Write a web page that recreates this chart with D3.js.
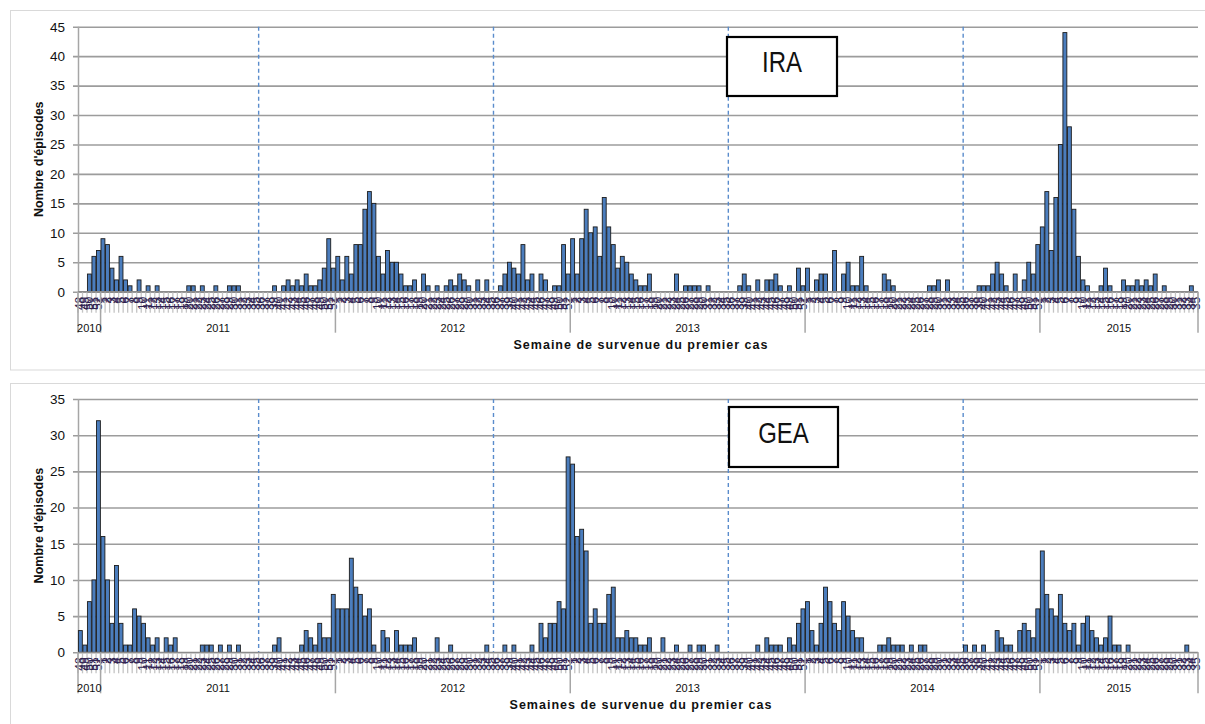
<!DOCTYPE html>
<html lang="fr">
<head>
<meta charset="UTF-8">
<title>IRA / GEA</title>
<script src="https://d3js.org/d3.v7.min.js"></script>
<style>
  body { margin: 0; background: #fff; }
  text { font-family: "Liberation Sans", Arial, sans-serif; }
</style>
</head>
<body>
<script>
// categories: weeks grouped by year
var years = ["2010", "2011", "2012", "2013", "2014", "2015"];
var firstWeek = [48, 1, 1, 1, 1, 1];
var lastWeek = [52, 52, 52, 52, 52, 35];
var seasonYears = ["2011", "2012", "2013", "2014"];
var seasonWeek = 36;

var iraTicks = [0, 5, 10, 15, 20, 25, 30, 35, 40, 45];
var geaTicks = [0, 5, 10, 15, 20, 25, 30, 35];

// IRA episodes per week
var ira = [
  0,0,3,6,7,9,8,4,2,6,  2,1,0,2,0,1,0,1,0,0,
  0,0,0,0,1,1,0,1,0,0,  1,0,0,1,1,1,0,0,0,0,
  0,0,0,1,0,1,2,1,2,1,  3,1,1,2,4,9,4,6,2,6,
  3,8,8,14,17,15,6,3,7,5,  5,3,1,1,2,0,3,1,0,1,
  0,1,2,1,3,2,1,0,2,0,  2,0,0,1,3,5,4,3,8,2,
  3,0,3,2,0,1,1,8,3,9,  3,9,14,10,11,6,16,11,8,4,
  6,5,3,2,1,1,3,0,0,0,  0,0,3,0,1,1,1,1,0,1,
  0,0,0,0,0,0,1,3,1,0,  2,0,2,2,3,1,0,1,0,4,
  1,4,0,2,3,3,0,7,0,3,  5,1,1,6,1,0,0,0,3,2,
  1,0,0,0,0,0,0,0,1,1,  2,0,2,0,0,0,0,0,0,1,
  1,1,3,5,3,1,0,3,0,2,  5,3,8,11,17,7,16,25,44,28,
  14,6,2,1,0,0,1,4,1,0,  0,2,1,1,2,1,2,1,3,0,
  1,0,0,0,0,0,1,0
];

// GEA episodes per week
var gea = [
  3,1,7,10,32,16,10,4,12,4,  1,1,6,5,4,2,1,2,0,2,
  1,2,0,0,0,0,0,1,1,1,  0,1,0,1,0,1,0,0,0,0,
  0,0,0,1,2,0,0,0,0,1,  3,2,1,4,2,2,8,6,6,6,
  13,9,8,5,6,1,0,3,2,0,  3,1,1,1,2,0,0,0,0,2,
  0,0,1,0,0,0,0,0,0,0,  1,0,0,0,1,0,1,0,0,0,
  1,0,4,2,4,4,7,6,27,26,  16,17,14,4,6,4,4,8,9,2,
  2,3,2,2,1,1,2,0,0,2,  0,0,1,0,0,1,0,1,1,0,
  0,1,0,0,0,0,0,0,0,0,  1,0,2,1,1,1,0,2,1,4,
  6,7,3,1,4,9,7,4,3,7,  5,3,2,2,0,0,0,1,1,2,
  1,1,1,0,1,0,1,1,0,0,  0,0,0,0,0,0,1,0,1,0,
  1,0,0,3,2,1,1,0,3,4,  3,2,6,14,8,6,5,8,4,3,
  4,1,4,5,3,2,1,2,5,1,  1,0,1,0,0,0,0,0,0,0,
  0,0,0,0,0,1,0,0
];

var weeks = [];
years.forEach(function(yr, k) {
    for (var w = firstWeek[k]; w <= lastWeek[k]; w++) weeks.push({year: yr, week: w});
});

var W = 1205, H = 724;
var left = 78, right = 1198;

var svg = d3.select("body").append("svg")
    .attr("width", W)
    .attr("height", H);

// panel frames
svg.append("rect").attr("x", 10.5).attr("y", 10.5).attr("width", 1210).attr("height", 359.5)
    .attr("fill", "#fff").attr("stroke", "#d9d9d9");
svg.append("rect").attr("x", 10.5).attr("y", 383.5).attr("width", 1210).attr("height", 400)
    .attr("fill", "#fff").attr("stroke", "#d9d9d9");

var x = d3.scaleBand().domain(d3.range(weeks.length)).range([left, right]).padding(0);
var bw = x.bandwidth();

function edge(i) { return i < weeks.length ? x(i) : right; }

var panels = [
    {values: ira, ticks: iraTicks, yMax: 45, top: 26.7, bottom: 291.7, name: "IRA",
     box: [727, 37, 110, 59], nameY: 72,
     xTitle: "Semaine de survenue du premier cas"},
    {values: gea, ticks: geaTicks, yMax: 35, top: 399, bottom: 652.3, name: "GEA",
     box: [729, 407, 109, 60], nameY: 443,
     xTitle: "Semaines de survenue du premier cas"}
];

panels.forEach(function(p) {
    var y = d3.scaleLinear().domain([0, p.yMax]).range([p.bottom, p.top]);
    var g = svg.append("g");

    // gridlines + tick labels
    var ax = g.append("g")
        .attr("transform", "translate(" + (left - 5) + ",0)")
        .call(d3.axisLeft(y).tickValues(p.ticks).tickSize(-(right - left + 5)).tickPadding(8));
    ax.select(".domain").remove();
    ax.selectAll("line").attr("stroke", "#9c9c9c").attr("stroke-width", 1.6);
    ax.selectAll("text")
        .attr("fill", "#111")
        .style("font-size", "13.5px")
        .style("font-family", "'Liberation Sans', Arial, sans-serif");

    // vertical axis line
    g.append("line")
        .attr("x1", left + 0.5).attr("x2", left + 0.5)
        .attr("y1", p.top).attr("y2", p.bottom)
        .attr("stroke", "#a6a6a6").attr("stroke-width", 1.5);

    // season separators
    seasonYears.forEach(function(sy) {
        var idx = weeks.findIndex(function(w) { return w.year === sy && w.week === seasonWeek; });
        g.append("line")
            .attr("x1", x(idx)).attr("x2", x(idx))
            .attr("y1", p.top).attr("y2", p.bottom)
            .attr("stroke", "#5a8ccc").attr("stroke-width", 1.4)
            .attr("stroke-dasharray", "4,3");
    });

    // slot ticks under the axis
    g.selectAll("line.slot")
        .data(d3.range(weeks.length + 1)).enter()
        .append("line")
        .attr("class", "slot")
        .attr("x1", function(i) { return edge(i); })
        .attr("x2", function(i) { return edge(i); })
        .attr("y1", p.bottom).attr("y2", p.bottom + 21)
        .attr("stroke", "#c4c4c4").attr("stroke-width", 1.3);

    // bars
    var data = p.values.map(function(v, i) { return {i: i, v: v}; })
        .filter(function(d) { return d.v > 0; });
    g.selectAll("rect.bar")
        .data(data).enter()
        .append("rect")
        .attr("class", "bar")
        .attr("x", function(d) { return x(d.i) + 0.4; })
        .attr("width", bw - 0.6)
        .attr("y", function(d) { return y(d.v); })
        .attr("height", function(d) { return y(0) - y(d.v); })
        .attr("fill", "#4b7dbd")
        .attr("stroke", "#1c1c1c")
        .attr("stroke-width", 0.9);

    // baseline
    g.append("line")
        .attr("x1", left).attr("x2", right)
        .attr("y1", p.bottom).attr("y2", p.bottom)
        .attr("stroke", "#8c8c8c").attr("stroke-width", 1.2);

    // week labels (rotated, overlapping)
    g.selectAll("text.wk")
        .data(weeks).enter()
        .append("text")
        .attr("class", "wk")
        .attr("transform", function(d, i) {
            return "translate(" + (x(i) + bw / 2 + 4) + "," + (p.bottom + 5) + ") rotate(-90)";
        })
        .attr("text-anchor", "end")
        .attr("fill", "#2e2250")
        .style("font-size", "12px")
        .text(function(d) { return d.week; });

    // year groups
    var bounds = [0];
    weeks.forEach(function(w, i) { if (i > 0 && w.year !== weeks[i - 1].year) bounds.push(i); });
    bounds.push(weeks.length);

    g.selectAll("line.yr")
        .data(bounds).enter()
        .append("line")
        .attr("class", "yr")
        .attr("x1", function(i) { return edge(i); })
        .attr("x2", function(i) { return edge(i); })
        .attr("y1", p.bottom).attr("y2", p.bottom + 41)
        .attr("stroke", "#a6a6a6").attr("stroke-width", 1.5);

    g.selectAll("text.yr")
        .data(years).enter()
        .append("text")
        .attr("class", "yr")
        .attr("x", function(d, k) { return (edge(bounds[k]) + edge(bounds[k + 1])) / 2; })
        .attr("y", p.bottom + 40)
        .attr("text-anchor", "middle")
        .attr("fill", "#111")
        .style("font-size", "11px")
        .text(function(d) { return d; });

    // name box
    g.append("rect")
        .attr("x", p.box[0]).attr("y", p.box[1])
        .attr("width", p.box[2]).attr("height", p.box[3])
        .attr("fill", "#fff").attr("stroke", "#000").attr("stroke-width", 2.2);
    g.append("text")
        .attr("transform", "translate(" + (p.box[0] + p.box[2] / 2) + "," + p.nameY + ") scale(1,1.2)")
        .attr("text-anchor", "middle")
        .attr("fill", "#111")
        .style("font-size", "24px")
        .text(p.name);

    // axis titles
    g.append("text")
        .attr("x", 641).attr("y", p.bottom + 57)
        .attr("text-anchor", "middle")
        .attr("fill", "#111")
        .style("font-size", "12.5px").style("font-weight", "bold")
        .style("letter-spacing", "1px")
        .text(p.xTitle);

    g.append("text")
        .attr("transform", "translate(43," + (p.top + p.bottom) / 2 + ") rotate(-90)")
        .attr("text-anchor", "middle")
        .attr("fill", "#111")
        .style("font-size", "12.5px").style("font-weight", "bold")
        .text("Nombre d'épisodes");
});
</script>
</body>
</html>
